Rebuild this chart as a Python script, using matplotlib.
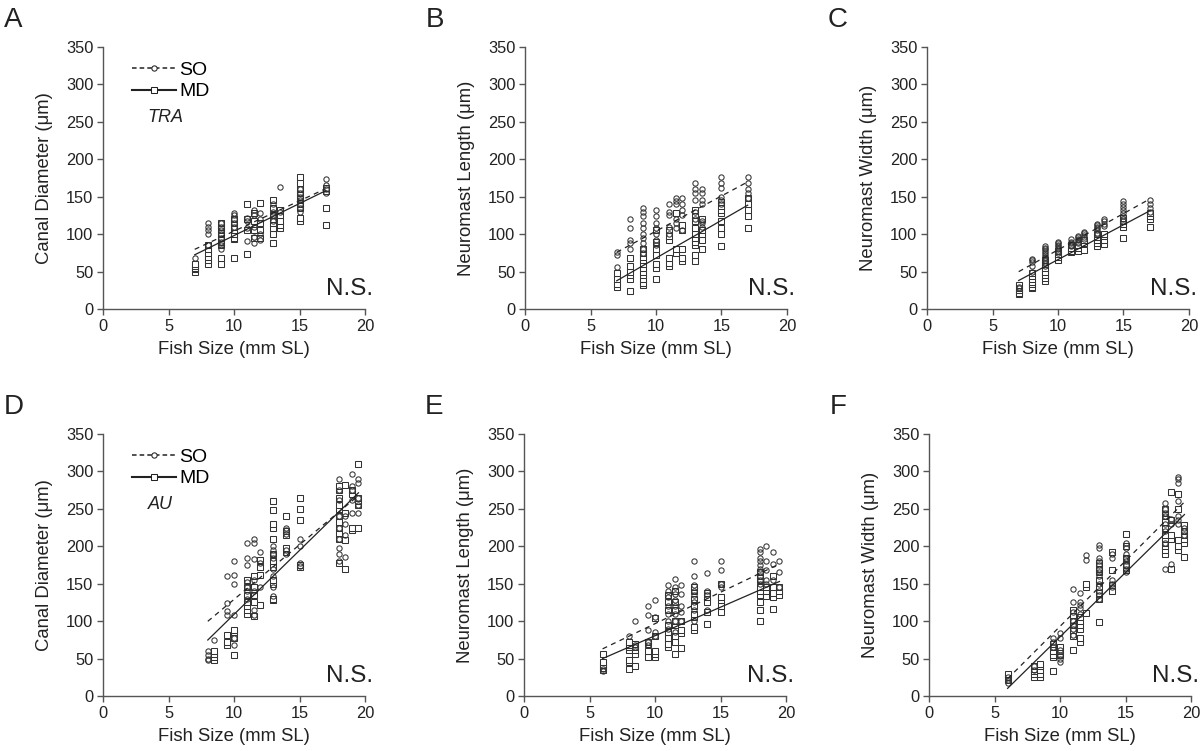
import numpy as np
import matplotlib
matplotlib.use("Agg")
import matplotlib.pyplot as plt
from matplotlib.lines import Line2D

plt.rcParams['font.family'] = ['Liberation Sans', 'DejaVu Sans']

# ---- panel A: canal diameter, TRA
a_x = [7, 8, 9, 10, 11, 11.5, 12, 13, 13.5, 15, 17]
a_so = [[68], [115, 110, 105, 100, 85], [80, 85, 90, 95, 100, 105, 110, 115],
        [128, 125, 120, 115, 110], [91, 108, 118, 122], [88, 96, 110, 125, 132],
        [92, 100, 120, 128], [130, 140, 125, 118], [163, 130],
        [130, 135, 140, 145, 150, 155, 160], [173, 165, 160, 155]]
a_md = [[50, 53, 55, 58, 60], [60, 65, 70, 75, 80, 85],
        [60, 68, 85, 90, 95, 100, 105, 110, 115], [68, 93, 95, 100, 105, 110, 115, 120],
        [73, 105, 120, 140], [95, 105, 118, 128], [142, 115, 105, 95],
        [88, 100, 108, 115, 120, 125, 135, 145], [108, 112, 118, 125, 132],
        [117, 122, 135, 140, 145, 150, 155, 160, 168, 177], [112, 135, 158, 162]]

# ---- panel B: neuromast length, TRA
b_x = [7, 8, 9, 10, 11, 11.5, 12, 13, 13.5, 15, 17]
b_so = [[76, 72, 56], [120, 108, 92, 88, 80],
        [135, 130, 124, 115, 108, 100, 95, 88, 80, 75],
        [132, 124, 115, 108, 100, 92, 85], [140, 130, 125, 110, 100],
        [148, 144, 140, 120, 115, 108], [148, 140, 132, 125, 105],
        [168, 160, 155, 145, 130, 120], [160, 155, 145, 140, 118, 115, 110],
        [176, 168, 162, 150, 145, 140], [176, 168, 160, 155, 148]]
b_md = [[30, 33, 40, 48], [24, 40, 45, 50, 57, 68],
        [32, 35, 40, 45, 50, 55, 60, 65, 70, 75, 80],
        [40, 55, 60, 72, 80, 90, 105], [57, 62, 68, 92, 98, 105], [75, 80, 128],
        [64, 68, 80, 105, 112], [64, 72, 85, 90, 95, 100, 108, 118, 125, 132],
        [80, 92, 100, 105, 120], [84, 100, 108, 118, 128, 132, 138, 143],
        [108, 124, 132, 140, 148]]

# ---- panel C: neuromast width, TRA
c_x = [7, 8, 9, 10, 11, 11.5, 12, 13, 13.5, 15, 17]
c_so = [[30, 28], [67, 65, 63, 58, 50], [84, 82, 80, 78, 75, 72, 70, 68, 65, 62, 58],
        [90, 88, 86, 84, 82, 80, 78, 75], [93, 90, 88, 86, 84],
        [98, 96, 94, 92, 90, 88], [103, 101, 99, 96, 93],
        [114, 112, 110, 108, 105, 102, 100], [120, 117, 114, 111],
        [144, 140, 136, 132, 128, 124, 120, 117], [145, 140, 135, 130]]
c_md = [[20, 22, 25, 28, 32], [28, 30, 33, 36, 40, 44, 48],
        [38, 42, 46, 50, 55, 60, 65], [66, 70, 74, 78], [76, 78, 82, 86],
        [77, 82, 86], [79, 88, 92], [84, 88, 92, 96, 100], [87, 92, 97, 100],
        [95, 110, 114, 118, 122], [110, 120, 124, 128]]

# ---- panel D: canal diameter, AU
d_x = [8, 8.5, 9.5, 10, 11, 11.5, 12, 13, 14, 15, 18, 18.5, 19, 19.5]
d_so = [[60, 55, 50, 48], [75], [160, 124, 114, 108], [180, 162, 150, 108, 78, 68],
        [204, 184, 175, 152, 145, 140, 130], [210, 205, 183, 155, 140, 115, 108],
        [193, 178, 145], [200, 195, 190, 185, 170, 160, 145, 133],
        [225, 222, 217, 195, 190], [210, 200, 178, 174],
        [290, 275, 262, 240, 225, 210, 198, 190, 180], [240, 230, 215, 186],
        [296, 280, 275, 262, 245], [290, 285, 265, 255, 245]]
d_md = [[], [48, 52, 56, 60], [68, 72, 82], [55, 78, 85, 88],
        [110, 115, 120, 125, 135, 145, 155], [107, 125, 135, 145, 160],
        [122, 162, 172, 182],
        [128, 130, 150, 155, 172, 180, 190, 210, 225, 230, 248, 260],
        [192, 198, 215, 220, 240], [172, 175, 235, 250, 265],
        [178, 210, 218, 225, 232, 240, 250, 255, 265, 275, 280],
        [170, 208, 245, 282], [222, 225, 270, 275], [224, 255, 260, 265, 310]]

# ---- panel E: neuromast length, AU
e_x = [6, 8, 8.5, 9.5, 10, 11, 11.5, 12, 13, 14, 15, 18, 18.5, 19, 19.5]
e_so = [[33, 36], [80], [100, 68, 65], [120, 108, 88, 72, 68], [128, 105, 85, 80],
        [148, 140, 132, 120, 110, 100, 90], [156, 145, 136, 128, 120, 110, 100, 85],
        [148, 136, 120, 112, 100], [180, 160, 148, 140, 135, 125, 115, 100],
        [164, 140, 135, 115], [180, 168, 150, 145],
        [196, 192, 185, 180, 175, 170, 165, 160, 155, 150],
        [200, 180, 168, 155, 150], [192, 176, 155], [180, 165, 145]]
e_md = [[35, 38, 42, 45, 56], [36, 45, 48, 62, 65, 68, 72], [40, 56, 62, 66, 70],
        [52, 60, 70, 72], [52, 56, 60, 80, 104],
        [65, 70, 78, 85, 95, 115, 125, 135], [56, 72, 80, 95, 100, 115, 125, 140],
        [64, 84, 88, 100], [88, 92, 105, 110, 120, 130, 140, 145],
        [96, 112, 125, 132, 138], [112, 120, 128, 132, 150],
        [100, 115, 125, 135, 140, 145, 155, 160, 165], [133, 140, 145],
        [116, 132, 138, 145, 160], [135, 140, 145]]

# ---- panel F: neuromast width, AU
f_x = [6, 8, 8.5, 9.5, 10, 11, 11.5, 12, 13, 14, 15, 18, 18.5, 19, 19.5]
f_so = [[17, 22, 25], [40, 35], [], [78, 72, 65], [84, 78, 62, 55, 50, 45],
        [143, 125, 112, 100, 95, 90, 82], [138, 126, 122, 118, 110], [188, 182],
        [202, 198, 185, 180, 175, 170, 165, 160, 150, 140, 135, 130],
        [190, 185, 155, 150, 145], [205, 198, 190, 185, 180, 175, 170, 165],
        [258, 250, 245, 240, 230, 220, 205, 170], [236, 230, 176],
        [293, 290, 285, 260, 240, 235, 230], [225, 220, 215]]
f_md = [[22, 26, 30], [26, 30, 33, 36, 40], [25, 30, 35, 40, 43],
        [34, 52, 55, 60, 65, 70], [55, 60, 65], [62, 80, 88, 95, 102, 108, 115],
        [72, 78, 90, 95, 100, 105], [111, 145, 150],
        [99, 130, 138, 145, 155, 165, 170, 178], [140, 148, 168, 193],
        [168, 175, 185, 200, 217],
        [190, 195, 200, 205, 210, 215, 225, 232, 240, 245, 250],
        [170, 210, 215, 235, 272], [195, 200, 208, 250, 270],
        [186, 205, 210, 215, 220, 228]]

# regression lines (slope, intercept)
so_fits = [(8.1, 23), (9.4, 10), (9.7, -18), (14.6, -17), (8.4, 12.6), (17.5, -82)]
md_fits = [(8.56, 12.5), (10.1, -33), (9.3, -27), (17.1, -62), (7.63, 4.2), (17.2, -93)]

letters = ["A", "B", "C", "D", "E", "F"]
ylabels = ["Canal Diameter (\u03bcm)", "Neuromast Length (\u03bcm)", "Neuromast Width (\u03bcm)",
           "Canal Diameter (\u03bcm)", "Neuromast Length (\u03bcm)", "Neuromast Width (\u03bcm)"]
species = ["TRA", None, None, "AU", None, None]


def expand(xs, groups):
    px, py = [], []
    for x, vals in zip(xs, groups):
        px += [x] * len(vals)
        py += vals
    return np.array(px, dtype=float), np.array(py, dtype=float)


panels = [(a_x, a_so, a_md), (b_x, b_so, b_md), (c_x, c_so, c_md),
          (d_x, d_so, d_md), (e_x, e_so, e_md), (f_x, f_so, f_md)]

# axes boxes in pixel terms of the 1200x751 canvas
lefts = [103, 525, 927, 103, 524, 929]
bottoms = [309, 309, 309, 696, 696, 696]
W, H = 1200, 751
ink = "#222222"

fig = plt.figure(figsize=(12, 7.51), dpi=100)

for i, (xs, so, md) in enumerate(panels):
    ax = fig.add_axes([lefts[i] / W, 1 - bottoms[i] / H, 262 / W, 262 / H])
    sx, sy = expand(xs, so)
    mx, my = expand(xs, md)
    ax.plot(mx, my, ls="none", marker="s", ms=4.5, mfc="white", mec="#333333", mew=0.75)
    ax.plot(sx, sy, ls="none", marker="o", ms=3.8, mfc="none", mec="#333333", mew=0.75)

    lo, hi = min(xs), max(xs)
    xx = np.array([lo, hi])
    ax.plot(xx, so_fits[i][0] * xx + so_fits[i][1], color=ink, lw=0.9, ls=(0, (4, 3.5)))
    ax.plot(xx, md_fits[i][0] * xx + md_fits[i][1], color=ink, lw=0.9)

    ax.set_xlim(0, 20)
    ax.set_ylim(0, 350)
    ax.set_xticks([0, 5, 10, 15, 20])
    ax.set_yticks(range(0, 351, 50))
    for s in ["top", "right"]:
        ax.spines[s].set_visible(False)
    for s in ["left", "bottom"]:
        ax.spines[s].set_color("#555555")
        ax.spines[s].set_linewidth(1.0)
    ax.tick_params(direction="out", length=4, width=1, color="#555555",
                   labelsize=11.8, labelcolor=ink, pad=3)
    ax.set_ylabel(ylabels[i], fontsize=13.3, color=ink, labelpad=9)
    ax.set_xlabel("Fish Size (mm SL)", fontsize=13.3, color=ink, labelpad=5)
    ax.text(1.03, 0.035, "N.S.", transform=ax.transAxes, ha="right", va="bottom",
            fontsize=17.5, color=ink)
    fig.text((lefts[i] - 99) / W, 1 - (bottoms[i] - 302) / H, letters[i],
             fontsize=20, color=ink, va="top", ha="left")

    if species[i]:
        handles = [Line2D([], [], color=ink, lw=1.1, ls=(0, (3, 2)), marker="o", ms=3.8,
                          mfc="white", mec=ink, mew=0.75),
                   Line2D([], [], color=ink, lw=1.5, marker="s", ms=4.5,
                          mfc="white", mec=ink, mew=0.75)]
        ax.legend(handles, ["SO", "MD"], loc="upper left", bbox_to_anchor=(0.08, 0.975),
                  frameon=False, fontsize=14, handlelength=2.3, handletextpad=0.15,
                  labelspacing=0.2, numpoints=1, borderaxespad=0)
        ax.text(0.17, 0.73, species[i], transform=ax.transAxes, fontsize=13,
                style="italic", color=ink, va="center")

fig.savefig("out.png", dpi=100)
